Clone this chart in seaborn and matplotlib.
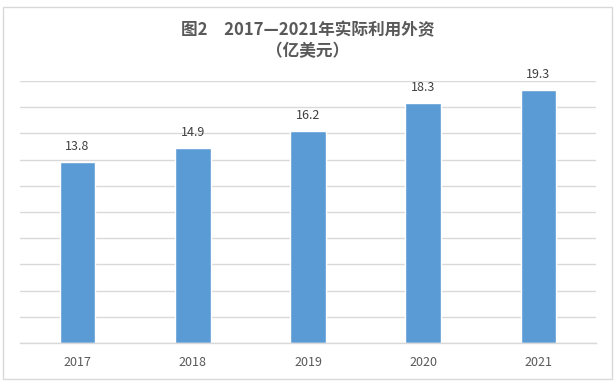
import matplotlib
matplotlib.use('Agg')
import matplotlib.pyplot as plt
import seaborn as sns
import pandas as pd
from matplotlib.patches import Rectangle

years = ['2017', '2018', '2019', '2020', '2021']
values = [13.8, 14.9, 16.2, 18.3, 19.3]

title_line1 = '图2　2017—2021年实际利用外资'
title_line2 = '（亿美元）'

sns.set_style('white')
plt.rcParams['font.family'] = ['Noto Sans CJK SC', 'DejaVu Sans']

df = pd.DataFrame({'year': years, 'value': values})

fig = plt.figure(figsize=(6.16, 3.85), dpi=100)
ax = fig.add_axes([20 / 616, 42 / 385, 576 / 616, 262 / 385])

sns.barplot(data=df, x='year', y='value', color='#5B9BD5', width=0.31,
            saturation=1, ax=ax)

grid_col = '#D9D9D9'
ax.set_ylim(0, 20)
ax.set_xlim(-0.5, len(years) - 0.5)
ax.set_yticks(range(0, 21, 2))
ax.yaxis.grid(True, color=grid_col, linewidth=1)
ax.set_axisbelow(True)
ax.tick_params(axis='y', left=False, labelleft=False)
for s in ['left', 'right', 'top']:
    ax.spines[s].set_visible(False)
ax.spines['bottom'].set_color(grid_col)
ax.spines['bottom'].set_linewidth(1)

# small ticks between the categories
ax.set_xticks([i - 0.5 for i in range(len(years) + 1)], minor=True)
ax.tick_params(axis='x', which='minor', length=5, color=grid_col, width=1)
ax.tick_params(axis='x', which='major', length=0, pad=9, labelsize=9,
               labelcolor='#595959')
ax.set_xlabel('')
ax.set_ylabel('')

for i, v in enumerate(values):
    ax.text(i, v + 0.7, f'{v:.1f}', ha='center', va='bottom', fontsize=9,
            color='#404040')

fig.text(0.5, 1 - 30 / 385, title_line1, ha='center', va='center',
         fontsize=12, fontweight='bold', color='#595959')
fig.text(0.5, 1 - 51 / 385, title_line2, ha='center', va='center',
         fontsize=12, fontweight='bold', color='#595959')

fig.patches.append(Rectangle((3 / 616, 6 / 385), 609 / 616, 372 / 385,
                             transform=fig.transFigure, fill=False,
                             edgecolor=grid_col, linewidth=1))

fig.savefig('out.png', dpi=100)
